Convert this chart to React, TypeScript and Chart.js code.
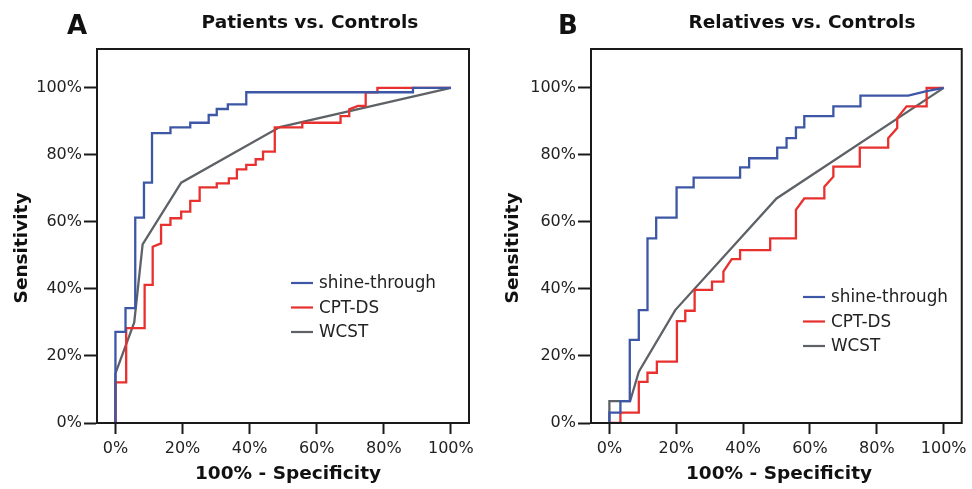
import React, { useEffect, useRef } from "react";
import { Chart, registerables } from "chart.js";

Chart.register(...registerables);

const FONT = "'DejaVu Sans', 'Liberation Sans', sans-serif";

// ---- axis ticks ----
const tickValues = [0, 20, 40, 60, 80, 100];
const tickLabels = ["0%", "20%", "40%", "60%", "80%", "100%"];
const xAxisTitle = "100% - Specificity";
const yAxisTitle = "Sensitivity";

// ---- series ----
const seriesNames = ["shine-through", "CPT-DS", "WCST"];
const seriesColors = ["#3d57a6", "#e8302f", "#5e6266"];

// Panel A: Patients vs. Controls (x = 100% - specificity, y = sensitivity, in %)
const aShineX = [0, 0, 3.0, 3.0, 5.9, 5.9, 8.5, 8.5, 10.9, 10.9, 16.4, 16.4, 22.3, 22.3, 27.8, 27.8, 30.2, 30.2, 33.5, 33.5, 39.0, 39.0, 88.7, 88.7, 100];
const aShineY = [0, 27.2, 27.2, 34.3, 34.3, 61.3, 61.3, 71.7, 71.7, 86.5, 86.5, 88.2, 88.2, 89.6, 89.6, 91.9, 91.9, 93.7, 93.7, 95.1, 95.1, 98.7, 98.7, 100, 100];

const aCptX = [0, 0, 3.2, 3.2, 8.7, 8.7, 11.1, 11.1, 13.6, 13.6, 16.4, 16.4, 19.6, 19.6, 22.3, 22.3, 25.1, 25.1, 30.2, 30.2, 33.8, 33.8, 36.2, 36.2, 39.0, 39.0, 41.8, 41.8, 44.0, 44.0, 47.5, 47.5, 55.7, 55.7, 67.1, 67.1, 69.7, 69.7, 72.3, 74.6, 74.6, 78.1, 78.1, 100];
const aCptY = [0, 12.1, 12.1, 28.3, 28.3, 41.2, 41.2, 52.6, 53.6, 59.1, 59.1, 61.1, 61.1, 63.1, 63.1, 66.3, 66.3, 70.3, 70.3, 71.5, 71.5, 73.0, 73.0, 75.7, 75.7, 77.0, 77.0, 78.7, 78.7, 81.0, 81.0, 88.2, 88.2, 89.6, 89.6, 91.6, 91.6, 93.6, 94.6, 94.6, 98.7, 98.7, 100, 100];

const aWcstX = [0, 0, 5.6, 8.1, 19.6, 49.0, 100];
const aWcstY = [0, 14.8, 30.0, 53.3, 71.7, 88.3, 100];

// Panel B: Relatives vs. Controls
const bShineX = [0, 0, 3.3, 3.3, 6.1, 6.1, 8.8, 8.8, 11.4, 11.4, 14.0, 14.0, 20.1, 20.1, 25.2, 25.2, 39.1, 39.1, 41.8, 41.8, 50.2, 50.2, 53.0, 53.0, 55.8, 55.8, 58.3, 58.3, 67.0, 67.0, 75.1, 75.1, 89.4, 94.9, 100];
const bShineY = [0, 3.1, 3.1, 6.5, 6.5, 24.8, 24.8, 33.7, 33.7, 55.1, 55.1, 61.3, 61.3, 70.3, 70.3, 73.2, 73.2, 76.3, 76.3, 79.0, 79.0, 82.2, 82.2, 85.0, 85.0, 88.2, 88.2, 91.6, 91.6, 94.5, 94.5, 97.7, 97.7, 99.0, 100];

const bCptX = [0, 3.3, 3.3, 8.8, 8.8, 11.4, 11.4, 14.2, 14.2, 20.2, 20.2, 22.7, 22.7, 25.5, 25.5, 30.7, 30.7, 34.1, 34.1, 36.6, 39.1, 39.1, 48.1, 48.1, 55.8, 55.8, 58.3, 64.3, 64.3, 67.0, 67.0, 74.9, 74.9, 83.4, 83.4, 86.1, 86.1, 88.9, 94.9, 94.9, 100];
const bCptY = [0, 0, 3.1, 3.1, 12.3, 12.3, 15.0, 15.0, 18.3, 18.3, 30.4, 30.4, 33.5, 33.5, 39.7, 39.7, 42.2, 42.2, 45.2, 48.9, 48.9, 51.6, 51.6, 55.1, 55.1, 63.6, 67.0, 67.0, 70.5, 73.5, 76.5, 76.5, 82.2, 82.2, 85.0, 88.0, 91.0, 94.5, 94.5, 100, 100];

const bWcstX = [0, 0, 6.2, 8.8, 19.7, 50.0, 100];
const bWcstY = [0, 6.5, 6.5, 15.3, 33.7, 67.0, 100];

const panelTitles = ["Patients vs. Controls", "Relatives vs. Controls"];
const panelLetters = ["A", "B"];

function pts(xs: number[], ys: number[]) {
  return xs.map((x, i) => ({ x, y: ys[i] }));
}

const panelData = [
  [pts(aShineX, aShineY), pts(aCptX, aCptY), pts(aWcstX, aWcstY)],
  [pts(bShineX, bShineY), pts(bCptX, bCptY), pts(bWcstX, bWcstY)],
];

// layout settings per panel (canvas-local pixels)
const panelLayout = [
  { left: 0, padLeft: 0, yWidth: 97, padRight: 17, letterX: 77, titleX: 310, legendX: 291, legendY: 283, yTitleX: 22, xTitleX: 288 },
  { left: 486, padLeft: 3, yWidth: 102, padRight: 9, letterX: 82, titleX: 316, legendX: 317, legendY: 297, yTitleX: 27, xTitleX: 293 },
];

const decorPlugin = {
  id: "decor",
  afterDraw(chart: any, _args: any, opts: any) {
    const { ctx, chartArea: ca } = chart;
    ctx.save();
    ctx.strokeStyle = "#1a1a1a";
    ctx.lineWidth = 2;
    ctx.strokeRect(ca.left, ca.top, ca.right - ca.left, ca.bottom - ca.top);
    ctx.fillStyle = "#111";
    ctx.textAlign = "center";
    ctx.textBaseline = "middle";
    ctx.font = `bold 26px ${FONT}`;
    ctx.fillText(opts.letter, opts.letterX, 27);
    ctx.font = `bold 18.5px ${FONT}`;
    ctx.fillText(opts.title, opts.titleX, 23);
    // axis titles
    ctx.fillText(xAxisTitle, opts.xTitleX, 474);
    ctx.save();
    ctx.translate(opts.yTitleX, 248);
    ctx.rotate(-Math.PI / 2);
    ctx.fillText(yAxisTitle, 0, 0);
    ctx.restore();
    // legend
    ctx.font = `16.8px ${FONT}`;
    ctx.textAlign = "left";
    chart.data.datasets.forEach((ds: any, i: number) => {
      const y = opts.legendY + i * 24.5;
      ctx.strokeStyle = ds.borderColor;
      ctx.lineWidth = 2.2;
      ctx.beginPath();
      ctx.moveTo(opts.legendX, y);
      ctx.lineTo(opts.legendX + 22, y);
      ctx.stroke();
      ctx.fillStyle = "#222";
      ctx.fillText(ds.label, opts.legendX + 28, y + 1);
    });
    ctx.restore();
  },
};

function Panel({ idx }: { idx: number }) {
  const ref = useRef<HTMLCanvasElement | null>(null);
  useEffect(() => {
    const L = panelLayout[idx];
    const chart = new Chart(ref.current as HTMLCanvasElement, {
      type: "line",
      data: {
        datasets: panelData[idx].map((d, i) => ({
          label: seriesNames[i],
          data: d,
          borderColor: seriesColors[i],
          backgroundColor: seriesColors[i],
          borderWidth: 2.3,
          pointRadius: 0,
          tension: 0,
          fill: false,
        })),
      },
      options: {
        responsive: false,
        animation: false,
        events: [],
        layout: { padding: { left: L.padLeft, right: L.padRight, top: 49, bottom: 0 } },
        plugins: {
          legend: { display: false },
          tooltip: { enabled: false },
          decor: {
            letter: panelLetters[idx],
            title: panelTitles[idx],
            letterX: L.letterX,
            titleX: L.titleX,
            legendX: L.legendX,
            legendY: L.legendY,
            yTitleX: L.yTitleX,
            xTitleX: L.xTitleX,
          },
        } as any,
        scales: {
          x: {
            type: "linear",
            min: -5.5,
            max: 105.4,
            afterBuildTicks: (s: any) => {
              s.ticks = tickValues.map((v) => ({ value: v }));
            },
            afterFit: (s: any) => {
              s.height = 66;
            },
            ticks: {
              autoSkip: false,
              maxRotation: 0,
              padding: 5,
              color: "#222",
              font: { family: FONT, size: 16 },
              callback: (v: any) => tickLabels[tickValues.indexOf(Number(v))],
            },
            grid: { drawOnChartArea: false, drawTicks: true, tickLength: 11, tickWidth: 2, tickColor: "#1a1a1a" },
            border: { display: true, color: "#1a1a1a", width: 2 },
            title: { display: false },
          },
          y: {
            type: "linear",
            min: 0,
            max: 111.6,
            afterBuildTicks: (s: any) => {
              s.ticks = tickValues.map((v) => ({ value: v }));
            },
            afterFit: (s: any) => {
              s.width = L.yWidth;
            },
            ticks: {
              autoSkip: false,
              padding: 2,
              color: "#222",
              font: { family: FONT, size: 16 },
              callback: (v: any) => tickLabels[tickValues.indexOf(Number(v))],
            },
            grid: { drawOnChartArea: false, drawTicks: true, tickLength: 13, tickWidth: 2, tickColor: "#1a1a1a" },
            border: { display: true, color: "#1a1a1a", width: 2 },
            title: { display: false },
          },
        },
      } as any,
      plugins: [decorPlugin],
    });
    return () => chart.destroy();
  }, [idx]);
  const L = panelLayout[idx];
  return (
    <canvas
      ref={ref}
      width={486}
      height={489}
      style={{ position: "absolute", left: L.left, top: 0, width: 486, height: 489, display: "block" }}
    />
  );
}

export default function App() {
  return (
    <div style={{ position: "absolute", left: 0, top: 0, width: 972, height: 489, background: "#fff" }}>
      <Panel idx={0} />
      <Panel idx={1} />
    </div>
  );
}
